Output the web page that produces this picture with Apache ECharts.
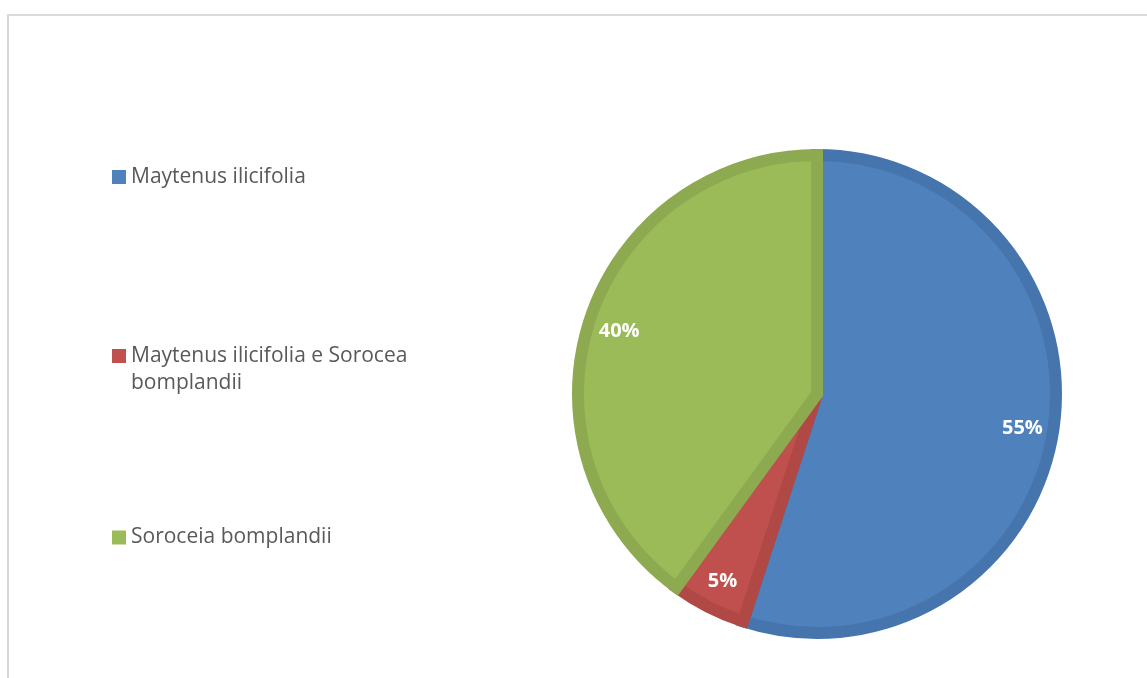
<!DOCTYPE html>
<html>
<head>
<meta charset="utf-8">
<script src="https://cdn.jsdelivr.net/npm/echarts@6/dist/echarts.min.js"></script>
<style>
html,body{margin:0;padding:0;background:#fff;}
#c{width:1147px;height:678px;}
</style>
</head>
<body>
<div id="c"></div>
<script>
var categories = ['Maytenus ilicifolia', 'Maytenus ilicifolia e Sorocea bomplandii', 'Soroceia bomplandii'];
var values = [55, 5, 40];
var labels = ['55%', '5%', '40%'];
var fillColors = ['#4f81bd', '#c0504d', '#9bbb59'];
var edgeColors = ['#4675ad', '#b04845', '#8eaa50'];

var chart = echarts.init(document.getElementById('c'), null, {renderer: 'canvas'});

var mainData = categories.map(function (n, i) {
  return {name: n, value: values[i], itemStyle: {color: fillColors[i], borderColor: edgeColors[i]}};
});
var labelData = categories.map(function (n, i) {
  return {name: n, value: values[i], label: {formatter: labels[i]}};
});

function legendFor(i, top, multiline) {
  return {
    data: [categories[i]],
    orient: 'vertical',
    left: 112,
    top: top,
    padding: 0,
    itemWidth: 14,
    itemHeight: 14,
    icon: 'rect',
    selectedMode: false,
    itemStyle: {borderWidth: 0},
    formatter: multiline ? function () { return '\nMaytenus ilicifolia e Sorocea\nbomplandii'; } : undefined,
    textStyle: {
      fontFamily: 'Open Sans',
      fontSize: 21,
      color: '#595959',
      lineHeight: 27
    }
  };
}

chart.setOption({
  animation: false,
  backgroundColor: '#ffffff',
  graphic: [{
    type: 'rect',
    shape: {x: 8, y: 15, width: 1200, height: 720},
    style: {fill: 'none', stroke: '#d9d9d9', lineWidth: 2},
    silent: true
  }],
  legend: [
    legendFor(0, 163.5, false),
    legendFor(1, 315.5, true),
    legendFor(2, 524, false)
  ],
  series: [{
    type: 'pie',
    center: [817, 394],
    radius: [0, 239],
    startAngle: 90,
    clockwise: true,
    silent: true,
    label: {show: false},
    labelLine: {show: false},
    itemStyle: {borderWidth: 12, borderJoin: 'miter', borderMiterLimit: 3},
    data: mainData
  }, {
    type: 'pie',
    center: [817, 396],
    radius: [166, 244],
    startAngle: 90,
    clockwise: true,
    silent: true,
    itemStyle: {color: 'rgba(0,0,0,0)', borderWidth: 0},
    label: {
      show: true,
      position: 'inside',
      color: '#ffffff',
      fontFamily: 'Open Sans',
      fontWeight: 'bold',
      fontSize: 20
    },
    labelLine: {show: false},
    data: labelData
  }]
});
</script>
</body>
</html>
